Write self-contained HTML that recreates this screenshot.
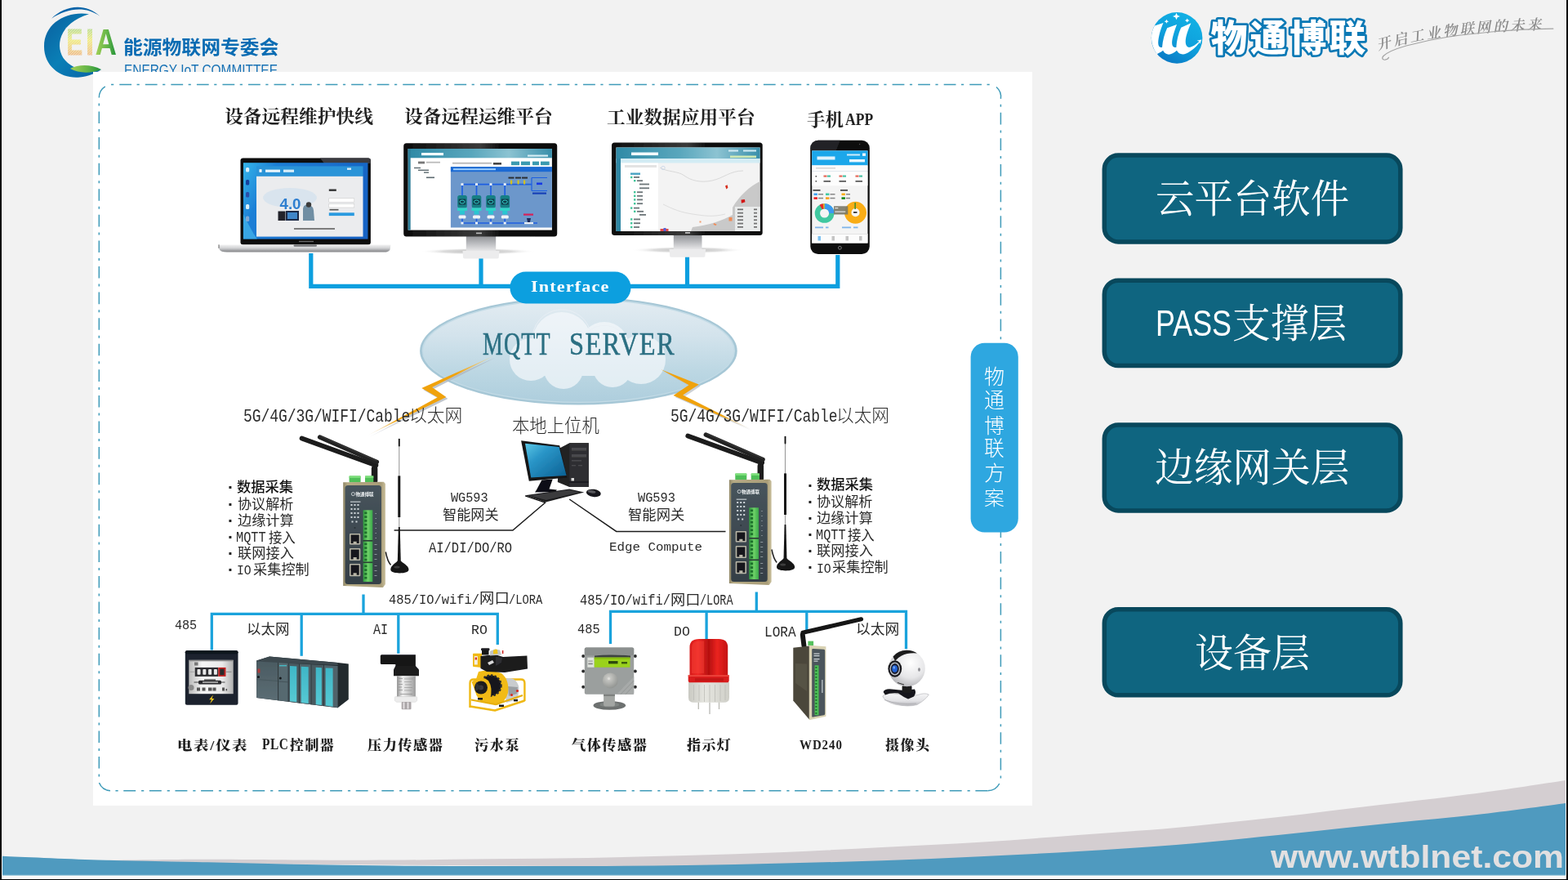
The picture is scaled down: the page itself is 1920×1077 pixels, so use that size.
<!DOCTYPE html>
<html lang="zh-CN">
<head>
<meta charset="utf-8">
<title>物通博联方案 - 能源物联网专委会</title>
<style>
html,body{margin:0;padding:0;background:#f2f2f2;}
body{width:1920px;height:1077px;overflow:hidden;position:relative;}
#slide{will-change:transform;position:absolute;left:0;top:0;width:1920px;height:1077px;overflow:hidden;background:#f2f2f2;}
#g{position:absolute;left:0;top:0;display:block;}
.t{position:absolute;font-size:100px;line-height:1;white-space:pre;transform-origin:0 0;color:#222;margin:0;padding:0;}
.serif,.cjkserif{font-family:"Liberation Serif","Noto Serif CJK SC",serif;}
.sans,.cjksans{font-family:"Liberation Sans","Noto Sans CJK SC",sans-serif;}
.mono{font-family:"Liberation Mono","Noto Serif CJK SC",monospace;}
.dsans{font-family:"Liberation Sans","DejaVu Sans","Noto Sans CJK SC",sans-serif;}
.ln{position:static;margin:0;padding:0;}
span.t{display:block;}

</style>
</head>
<body>
<div id="slide">
<svg id="g" width="1920" height="1077" viewBox="0 0 1920 1077">
<defs>
<linearGradient id="lgCres" x1="0" y1="0" x2="1" y2="1">
<stop offset="0" stop-color="#0a5f9e"/><stop offset="0.5" stop-color="#0a7fb6"/><stop offset="1" stop-color="#0a62a6"/>
</linearGradient>
<linearGradient id="lgLeaf" x1="0" y1="0" x2="1" y2="0">
<stop offset="0" stop-color="#a6d257"/><stop offset="0.6" stop-color="#5fb347"/><stop offset="1" stop-color="#1f9139"/>
</linearGradient>
<linearGradient id="lgEI" x1="0" y1="0" x2="0" y2="1">
<stop offset="0" stop-color="#8ccf8a"/><stop offset="0.45" stop-color="#f2ec6a"/><stop offset="1" stop-color="#ef9a78"/>
</linearGradient>
<pattern id="hatch" width="2.200" height="2.200" patternUnits="userSpaceOnUse" patternTransform="rotate(-45)">
<rect width="2.200" height="0.950" fill="#f2f2f2" fill-opacity=".6"/>
</pattern>
</defs>
<!-- EIA committee logo -->
<path d="M109 17.2 C82 13 54 28 54 57 C54 82 76 97 98 94.5 C108 93.5 118 89.5 124 85 C108 88 90 85.5 80 74 C66 58 72 28 109 17.2 Z" fill="url(#lgCres)"/>
<path d="M63.100 22.700 C78 7.300 104 2.300 122.500 20 C104 6.800 82 10.300 63.100 22.700 Z" fill="#0a64a8"/>
<path d="M85.9 84 C96 78.5 112 78.5 123.9 85 C114 89.5 97 90.5 85.9 84 Z" fill="url(#lgLeaf)"/>
<g font-family="'Liberation Sans',sans-serif" font-weight="700" font-size="44.6">
<text x="81.400" y="66.900" fill="url(#lgEI)" stroke="url(#lgEI)" stroke-width="1" opacity="0.9" textLength="19.600" lengthAdjust="spacingAndGlyphs">E</text>
<text x="105.200" y="66.900" fill="url(#lgEI)" stroke="url(#lgEI)" stroke-width="1.200" opacity="0.9" textLength="9.600" lengthAdjust="spacingAndGlyphs">I</text>
<rect x="80" y="33" width="35" height="36" fill="url(#hatch)"/>
<text x="116.5" y="66.9" fill="url(#lgLeaf)" textLength="26.4" lengthAdjust="spacingAndGlyphs">A</text>
</g>

<defs>
<linearGradient id="cloudG" x1="0" y1="0" x2="0" y2="1">
<stop offset="0" stop-color="#e3ecf2"/><stop offset="0.35" stop-color="#d3e3ec"/><stop offset="0.7" stop-color="#bcd7e3"/><stop offset="1" stop-color="#aecedd"/>
</linearGradient>
</defs>
<!-- white diagram panel -->
<rect x="114" y="87.900" width="1150" height="898" fill="#ffffff"/>
<!-- dash-dot frame -->
<g fill="none" stroke="#3f9bb9" stroke-width="1.500">
<path d="M135 103.400H1214" stroke-dasharray="14.800 6.500 3.200 7.045" stroke-dashoffset="20.295"/>
<path d="M140 967.750H1209.400" stroke-dasharray="14.900 6.900 3.200 6.610" stroke-dashoffset="20.360"/>
<path d="M121.300 125V953" stroke-dasharray="14.600 7 3 6.980" stroke-dashoffset="20.080"/>
<path d="M1225.400 126V954" stroke-dasharray="14.700 7 3 6.900" stroke-dashoffset="19.850"/>
<path d="M121.300 119.600A16 16 0 0 1 128.750 105.900"/>
<path d="M1220 106.500A16 16 0 0 1 1225.400 120.900"/>
<path d="M121.400 958A16 16 0 0 0 135 967.750"/>
<path d="M1209.400 967.750A16 16 0 0 0 1223.750 959"/>
</g>
<!-- right side layer buttons -->
<g fill="#0f6580" stroke="#08485c" stroke-width="5.5">
<rect x="1352.3" y="190.1" width="362.5" height="105.8" rx="17" ry="17"/>
<rect x="1352.3" y="343.2" width="362.5" height="104.4" rx="17" ry="17"/>
<rect x="1352.3" y="520" width="362.5" height="104.9" rx="17" ry="17"/>
<rect x="1352.3" y="745.8" width="362.5" height="105" rx="17" ry="17"/>
</g>
<!-- bottom swoosh -->
<path d="M130.0 1052.90C150.0 1052.72 211.7 1051.88 250.0 1051.80C288.3 1051.72 321.7 1052.27 360.0 1052.40C398.3 1052.53 440.0 1052.79 480.0 1052.60C520.0 1052.41 560.0 1051.68 600.0 1051.25C640.0 1050.82 680.0 1050.71 720.0 1050.00C760.0 1049.29 800.0 1048.17 840.0 1047.00C880.0 1045.83 920.0 1044.67 960.0 1043.00C1000.0 1041.33 1040.0 1039.04 1080.0 1037.00C1120.0 1034.96 1160.0 1033.25 1200.0 1030.75C1240.0 1028.25 1280.0 1024.96 1320.0 1022.00C1360.0 1019.04 1399.2 1016.67 1440.0 1013.00C1480.8 1009.33 1523.3 1004.67 1565.0 1000.00C1606.7 995.33 1648.3 990.00 1690.0 985.00C1731.7 980.00 1777.2 975.00 1815.0 970.00C1852.8 965.00 1900.0 957.50 1917.0 955.00V1000L1440 1040L960 1062L130 1056Z" fill="#d4ced1"/>
<path d="M3.0 1047.75C22.5 1048.54 80.5 1051.29 120.0 1052.50C159.5 1053.71 200.0 1054.12 240.0 1055.00C280.0 1055.88 320.0 1057.00 360.0 1057.75C400.0 1058.50 440.0 1059.12 480.0 1059.50C520.0 1059.88 560.0 1059.92 600.0 1060.00C640.0 1060.08 680.0 1060.17 720.0 1060.00C760.0 1059.83 800.0 1059.58 840.0 1059.00C880.0 1058.42 920.0 1057.46 960.0 1056.50C1000.0 1055.54 1040.0 1054.62 1080.0 1053.25C1120.0 1051.88 1160.0 1050.12 1200.0 1048.25C1240.0 1046.38 1280.0 1044.38 1320.0 1042.00C1360.0 1039.62 1399.2 1037.33 1440.0 1034.00C1480.8 1030.67 1523.3 1026.21 1565.0 1022.00C1606.7 1017.79 1648.3 1013.04 1690.0 1008.75C1731.7 1004.46 1777.2 1000.54 1815.0 996.25C1852.8 991.96 1900.0 985.21 1917.0 983.00V1071.25H3Z" fill="#4f9abf"/>
<rect x="3" y="1071.250" width="1914" height="4.750" fill="#fafafa"/>
<rect x="3" y="1070.600" width="1914" height="1.200" fill="#8fc0d6" opacity=".8"/>
<!-- slide edges -->
<rect x="0" y="0" width="2" height="1077" fill="#000"/>
<rect x="2" y="0" width="1" height="1076" fill="#fcfcfc"/>
<rect x="1918" y="0" width="2" height="1077" fill="#000"/>
<rect x="1917" y="0" width="1" height="1076" fill="#fcfcfc"/>
<rect x="0" y="1076" width="1920" height="1" fill="#000"/>
<!-- cloud -->
<ellipse cx="708.400" cy="429.400" rx="194.300" ry="66.200" fill="#a6c7d6"/>
<ellipse cx="708.400" cy="429.200" rx="191.600" ry="63.800" fill="#c3dbe6"/>
<ellipse cx="708.400" cy="429.400" rx="190" ry="62.400" fill="url(#cloudG)"/>
<!-- top bus lines -->
<g fill="none" stroke="#0c9fdf" stroke-width="5.200" stroke-linejoin="miter">
<path d="M380.800 310V350.400H1025.800V312"/>
<path d="M589 316V350.400"/>
<path d="M841.500 314V350.400"/>
</g>
<rect x="624.400" y="332.500" width="148.100" height="38.900" rx="19.450" fill="#0c9fdf"/>
<!-- vertical side pill -->
<rect x="1188.6" y="419.8" width="58.2" height="231.8" rx="17" fill="#2ea7e0"/>
<!-- lower bus lines -->
<g fill="none" stroke="#1aa3dc" stroke-width="3.300">
<path d="M445 727.500V751.300"/>
<path d="M259.300 795.600V751.300H609.300V789"/>
<path d="M369.200 751.300V802.800"/>
<path d="M487.800 751.300V799.800"/>
<path d="M926.300 724.500V748.300"/>
<path d="M747.500 788V748.300H1109.500V794.200"/>
<path d="M865.100 748.300V782"/>
<path d="M987.800 748.300V772"/>
</g>
<!-- thin black links -->
<g fill="none" stroke="#1c1c1c" stroke-width="1.500">
<path d="M482.600 649.100H627.900L667.500 615.300"/>
<path d="M697.200 611L754.700 650.400H888.500"/>
</g>

<defs>
<filter id="soft" x="-5%" y="-5%" width="110%" height="110%"><feGaussianBlur stdDeviation="0.45"/></filter>
<linearGradient id="gSilverV" x1="0" y1="0" x2="0" y2="1">
<stop offset="0" stop-color="#f4f4f4"/><stop offset="0.45" stop-color="#d2d3d5"/><stop offset="1" stop-color="#7f8083"/>
</linearGradient>
<linearGradient id="gNeck" x1="0" y1="0" x2="0" y2="1">
<stop offset="0" stop-color="#8d8f93"/><stop offset="0.6" stop-color="#c3c4c7"/><stop offset="1" stop-color="#e9e9ea"/>
</linearGradient>
<linearGradient id="gDesk" x1="0" y1="0" x2="1" y2="0.3">
<stop offset="0" stop-color="#35b6ea"/><stop offset="0.25" stop-color="#1d7fd6"/><stop offset="1" stop-color="#1763c4"/>
</linearGradient>
<linearGradient id="gBezel" x1="0" y1="0" x2="1" y2="0">
<stop offset="0" stop-color="#0c0c0c"/><stop offset="0.5" stop-color="#3a3a3a"/><stop offset="0.62" stop-color="#111"/><stop offset="1" stop-color="#0a0a0a"/>
</linearGradient>
<radialGradient id="gShadow" cx="0.5" cy="0.5" r="0.5">
<stop offset="0" stop-color="#bdbdbd"/><stop offset="0.6" stop-color="#dcdcdc"/><stop offset="1" stop-color="#ffffff" stop-opacity="0"/>
</radialGradient>
<linearGradient id="gSky" x1="0" y1="0" x2="1" y2="0">
<stop offset="0" stop-color="#2f8aa6"/><stop offset="0.45" stop-color="#5aa7bd"/><stop offset="0.7" stop-color="#8cc3d2"/><stop offset="1" stop-color="#3a8fab"/>
</linearGradient>
</defs>
<!-- laptop -->
<g id="laptop" filter="url(#soft)">
<rect x="294.5" y="193.4" width="159.4" height="106" rx="3.2" fill="#0b0b0d"/>
<path d="M392 193.600H451a2.900 2.900 0 0 1 2.900 2.900V200H397Z" fill="#3b3b3f"/>
<rect x="297.900" y="199.200" width="152.600" height="93.400" fill="url(#gDesk)"/>
<path d="M297.900 292.600V262c6 12 11 22 17 30.600Z" fill="#4fc6f2" opacity=".55"/>
<rect x="314" y="203.400" width="130.500" height="12.400" fill="#2b94d8"/>
<rect x="314" y="215.800" width="130.500" height="73.800" fill="#ebecee"/>
<rect x="317.500" y="207.200" width="3" height="3.600" fill="#fff"/>
<rect x="325" y="207.600" width="18" height="3.200" fill="#e9f5fc"/>
<rect x="347" y="207.600" width="13" height="3.200" fill="#d7edf9"/>
<rect x="425" y="205.500" width="5" height="2.400" fill="#d7edf9"/>
<g fill="#d9f0fb"><rect x="301" y="205" width="4.200" height="5.500" rx="1.500"/><rect x="301" y="220" width="4.200" height="6.500" rx="1.500" fill="#123f9c"/><rect x="301" y="235" width="4.200" height="6.500" rx="1.500" fill="#2a50a8"/><rect x="301" y="250" width="4.200" height="6" rx="1.500"/><rect x="301" y="264.500" width="4.200" height="6.500" rx="1.500" fill="#7fa9d6"/></g>
<ellipse cx="355" cy="242" rx="33" ry="12" fill="#d5e2ee" opacity=".8"/>
<text x="342.500" y="256.400" font-family="'Liberation Sans',sans-serif" font-weight="700" font-size="19" fill="#2f7fd0" textLength="26" lengthAdjust="spacingAndGlyphs">4.0</text>
<rect x="340.500" y="258.500" width="9" height="11.500" fill="#20242c"/>
<rect x="350" y="258" width="16" height="12" fill="#1d2b46"/>
<rect x="352" y="260" width="12" height="8" fill="#3f86c9"/>
<path d="M371 270v-14c0-3 1.500-5 4.500-5.500 4 0 8 2 8.500 7l1 12.500Z" fill="#6f8ea3"/>
<circle cx="378" cy="250.500" r="3.200" fill="#3b3b3b"/>
<rect x="402.800" y="231.500" width="9" height="2.400" fill="#333"/>
<rect x="402.800" y="242.800" width="31" height="4.600" fill="#fff" stroke="#c7c7c7" stroke-width=".5"/>
<rect x="402.800" y="249.400" width="31" height="4.600" fill="#fff" stroke="#c7c7c7" stroke-width=".5"/>
<rect x="403.500" y="255.900" width="11" height="1.600" fill="#555"/>
<rect x="402.800" y="260.300" width="31" height="3.800" fill="#2b9be0"/>
<rect x="360" y="279" width="50" height="2" fill="#555" opacity=".75"/>
<rect x="366" y="294.800" width="18" height="1.400" fill="#6a6a6a"/>
<path d="M268 299.400H478.500L477.500 305.500Q476.500 308.600 470 308.600H278Q270 308.600 268.500 305Z" fill="url(#gSilverV)"/>
<rect x="359.600" y="299.400" width="28.400" height="2.400" rx="1.200" fill="#6f7073"/>
<rect x="267.400" y="299.400" width="1.200" height="4.500" fill="#777"/>
</g>
<!-- monitor A : remote O&M platform -->
<g id="monA" filter="url(#soft)">
<ellipse cx="584.600" cy="307.700" rx="71" ry="4" fill="url(#gShadow)"/>
<rect x="570.800" y="288" width="36.400" height="19.500" fill="url(#gNeck)"/>
<path d="M566.500 307h45l-.8 8.600q-.3 .8-1.500 .8h-40.500q-1.200 0-1.500-.8Z" fill="#ececed"/>
<rect x="494.200" y="175.300" width="188" height="114.200" rx="3.500" fill="url(#gBezel)"/>
<rect x="499.700" y="182" width="176.200" height="99.600" fill="#ffffff"/>
<rect x="499.700" y="182" width="176.200" height="11.300" fill="url(#gSky)"/>
<rect x="499.700" y="182" width="3" height="99.600" fill="#2e7f99"/>
<rect x="516" y="187" width="27" height="3.200" fill="#f2fbff"/>
<rect x="646" y="189.500" width="25" height="2.200" fill="#d6edf4"/>
<rect x="512" y="197.600" width="8" height="2.800" fill="#777"/><rect x="522" y="197.800" width="17" height="1.800" fill="#bbb"/>
<rect x="554" y="198.800" width="48" height="1.800" fill="#b7b7b7"/><rect x="604" y="199" width="10" height="2.600" fill="#444"/>
<g fill="#3a9ab0"><rect x="626" y="197.600" width="10" height="4.600"/><rect x="638" y="197.600" width="11" height="4.600"/><rect x="652" y="197.600" width="8" height="4.600"/><rect x="662" y="197.600" width="10.700" height="4.600"/></g>
<g fill="#5d6b70"><rect x="507" y="204.800" width="8" height="1.400"/><rect x="512" y="207.600" width="13" height="1.400"/><rect x="519" y="210.400" width="6" height="1.400"/><rect x="522" y="216.500" width="10" height="1.600"/></g>
<rect x="551.900" y="204.200" width="124" height="74.300" fill="#6c97cb"/>
<rect x="551.900" y="204.200" width="124" height="6" fill="#1b6bd3"/>
<rect x="555" y="206.200" width="52" height="2" fill="#9fd0ff"/>
<g fill="none" stroke="#1f5fe2" stroke-width="1.700"><path d="M566 225.600H651"/><path d="M566 273H658"/><path d="M566 225.600V240M583.500 225.600V240M601 225.600V240M618.200 225.600V240"/><path d="M566 264V273M583.500 264V273M601 264V273M618.200 264V273"/><path d="M651 217.500H670M651 233.500H670M651 217.500V233.500" stroke-width="1.200"/></g>
<g id="pmp"><rect x="560.200" y="239" width="11.600" height="15.500" rx="2.500" fill="#167f84"/><rect x="561.700" y="243.500" width="8.600" height="7" fill="#0f3b4a"/><ellipse cx="566" cy="247" rx="3" ry="2" fill="none" stroke="#35e0d8" stroke-width=".9"/><rect x="560" y="254.500" width="12" height="3.400" fill="#31d6c9"/><rect x="563" y="258" width="6" height="4.500" fill="#2bc6d2"/><rect x="561.500" y="263.500" width="9" height="4" rx="1.500" fill="#eef4f8"/></g>
<use href="#pmp" x="17.500"/><use href="#pmp" x="35"/><use href="#pmp" x="52.300"/>
<g fill="#f0f5fa"><rect x="564.500" y="224.200" width="3" height="2.800"/><rect x="582" y="224.200" width="3" height="2.800"/><rect x="599.500" y="224.200" width="3" height="2.800"/><rect x="616.700" y="224.200" width="3" height="2.800"/><rect x="564.500" y="271.600" width="3" height="2.800"/><rect x="582" y="271.600" width="3" height="2.800"/><rect x="599.500" y="271.600" width="3" height="2.800"/><rect x="616.700" y="271.600" width="3" height="2.800"/></g>
<g fill="#2b2f33"><rect x="622.500" y="216.600" width="7" height="2"/><rect x="631" y="216.600" width="7" height="2"/><rect x="639" y="216.600" width="7" height="2"/></g>
<g fill="#d5c21a"><rect x="625" y="220.500" width="2.200" height="5"/><rect x="633.500" y="220.500" width="2.200" height="5"/><rect x="641" y="220.500" width="2.200" height="5"/></g>
<rect x="657" y="223.500" width="7" height="2.600" fill="#1238e6"/>
<rect x="652" y="235.500" width="17" height="2.200" fill="#1541b7"/>
<rect x="641" y="261.500" width="12" height="2.200" fill="#d6205a"/>
<path d="M645 267h5l-1.200 5.500h-2.600Z" fill="#1d2a5a"/><rect x="642" y="272" width="11" height="2.200" fill="#e8eef5"/>
<rect x="583" y="284.600" width="7" height="1.600" fill="#bdbdbd"/>
</g>
<!-- monitor B : industrial data platform -->
<g id="monB" filter="url(#soft)">
<ellipse cx="842" cy="306" rx="70" ry="4.200" fill="url(#gShadow)"/>
<rect x="824.800" y="287" width="34.700" height="18.600" fill="url(#gNeck)"/>
<path d="M819.500 305h44.600l-.8 9q-.3 .8-1.500 .8h-40q-1.200 0-1.500-.8Z" fill="#ececed"/>
<rect x="749" y="174.500" width="184.700" height="113.500" rx="3.500" fill="url(#gBezel)"/>
<rect x="754.500" y="180.500" width="176.100" height="102.500" fill="#f3f3f3"/>
<rect x="754.500" y="180.500" width="176.100" height="13.500" fill="url(#gSky)"/>
<rect x="754.500" y="194" width="176.100" height="5.500" fill="#d3ecf4"/>
<rect x="754.500" y="194" width="5.500" height="89" fill="#2f86a3"/>
<rect x="760" y="199.500" width="45.800" height="83.500" fill="#ffffff"/>
<rect x="773" y="186.500" width="33" height="3.600" fill="#f4fcff"/>
<rect x="894" y="190.500" width="32" height="2.600" fill="#cfe9b4"/>
<rect x="892" y="183.500" width="12" height="2" fill="#d3ecf4"/><rect x="910" y="183.500" width="16" height="2" fill="#d3ecf4"/>
<rect x="765" y="202" width="39" height="3" fill="#e3e3e3"/>
<g fill="#43c59a"><rect x="772" y="211.500" width="12" height="2.400" fill="#4aa3c4"/><rect x="772" y="215.800" width="2.400" height="2.400"/><rect x="776" y="220" width="2.400" height="2.400"/><rect x="776" y="234" width="2.400" height="2.400"/><rect x="776" y="238.600" width="2.400" height="2.400"/><rect x="776" y="243.200" width="2.400" height="2.400"/><rect x="776" y="248" width="2.400" height="2.400"/><rect x="772" y="253.400" width="2.400" height="2.400"/><rect x="776" y="257.600" width="2.400" height="2.400"/><rect x="772" y="267.200" width="2.400" height="2.400"/><rect x="772" y="272" width="2.400" height="2.400"/><rect x="772" y="276.800" width="2.400" height="2.400"/></g>
<g fill="#6d7679"><rect x="776" y="216" width="7" height="1.800"/><rect x="780" y="220.300" width="7" height="1.800"/><rect x="783" y="224.600" width="12" height="1.800"/><rect x="783" y="229.400" width="12" height="1.800"/><rect x="780" y="234.300" width="7" height="1.800"/><rect x="780" y="238.900" width="7" height="1.800"/><rect x="780" y="243.500" width="7" height="1.800"/><rect x="780" y="248.300" width="7" height="1.800"/><rect x="776" y="253.700" width="7" height="1.800"/><rect x="780" y="257.900" width="8" height="1.800"/><rect x="783" y="262" width="8" height="1.800"/><rect x="776" y="267.500" width="8" height="1.800"/><rect x="776" y="272.300" width="8" height="1.800"/><rect x="776" y="277.100" width="7" height="1.800"/></g>
<path d="M930.600 222 C918 228 905 240 897 254 L897 263 C885 270 866 276 848 278 L846 283 H930.600Z" fill="#c9c9c9"/>
<path d="M808 205c10 6 22 4 30 10s20 9 34 6 22-12 38-12" fill="none" stroke="#d9d9d9" stroke-width="1"/>
<path d="M812 250c12 6 22 10 36 12s24 4 40 0" fill="none" stroke="#dedede" stroke-width="1"/>
<rect x="900" y="253" width="30.600" height="30" fill="#eceeee" opacity=".92"/>
<g fill="#6f6f6f"><rect x="903" y="255.500" width="7" height="1.700"/><rect x="903" y="259.800" width="7" height="1.700"/><rect x="903" y="264.100" width="7" height="1.700"/><rect x="903" y="268.400" width="7" height="1.700"/><rect x="903" y="272.700" width="7" height="1.700"/><rect x="903" y="277" width="7" height="1.700"/><rect x="923" y="255.500" width="4" height="1.700"/><rect x="923" y="259.800" width="4" height="1.700"/><rect x="923" y="264.100" width="4" height="1.700"/><rect x="923" y="268.400" width="4" height="1.700"/><rect x="923" y="272.700" width="4" height="1.700"/><rect x="923" y="277" width="4" height="1.700"/></g>
<path d="M888 227.500l2.600-1.200 .8 3.400-2 1.800Z" fill="#d62f1f"/>
<path d="M907.500 244.500l4.400-.6 .6 3.300-4.600 1.600Z" fill="#d31919"/>
<rect x="892.500" y="266" width="4" height="4.500" fill="#f08a55"/>
<path d="M874 273l3.500 1.500-.8 1.600-3-1.200Z" fill="#f08a55"/><rect x="856.500" y="270.500" width="2" height="2" fill="#f39b6d"/>
<rect x="808.500" y="280" width="10" height="3" fill="#e34a4a"/><rect x="812.500" y="279" width="3" height="4" fill="#5561d8"/>
<circle cx="812" cy="205.500" r="2.200" fill="none" stroke="#c5d3e6" stroke-width=".8"/>
<rect x="839" y="284" width="6" height="1.800" fill="#bdbdbd"/>
</g>
<!-- phone -->
<g id="phone" filter="url(#soft)">
<rect x="992.300" y="171.800" width="72.500" height="139.200" rx="9.500" fill="#0a0a0b"/>
<path d="M1001.800 171.800h27l-5 12.500h-31.500v-3a9.500 9.500 0 0 1 9.500-9.500Z" fill="#2a2a2c" opacity=".8"/>
<rect x="994.200" y="184.400" width="68.300" height="113.100" fill="#f4f4f4"/>
<rect x="994.200" y="184.400" width="68.300" height="18" fill="#1ea7ea"/>
<rect x="1000.500" y="191.500" width="22" height="4" fill="#dff3fd"/>
<rect x="1037" y="188.500" width="16" height="2" fill="#cdecfb"/><rect x="1056" y="187.500" width="4" height="3.400" fill="#e9f7fe"/>
<rect x="1040" y="195" width="19" height="3.400" fill="#e9f7fe"/>
<rect x="994.200" y="202.400" width="68.300" height="6.800" fill="#fbfbfb"/><rect x="999" y="205" width="24" height="1.600" fill="#d7d7d7"/>
<rect x="994.200" y="209.200" width="68.300" height="1" fill="#dfe7ef"/>
<rect x="994.200" y="210.200" width="68.300" height="17" fill="#fdfdfd"/>
<g fill="#e66a5a"><rect x="1008.500" y="214.500" width="4" height="2.200"/><rect x="1027.500" y="214.500" width="4" height="2.200"/><rect x="1047.500" y="214.500" width="4" height="2.200"/></g>
<g fill="#4cc2a6"><rect x="1013" y="214.500" width="4" height="2.200"/><rect x="1032" y="214.500" width="4" height="2.200"/><rect x="1052" y="214.500" width="4" height="2.200"/></g>
<g fill="#555"><rect x="998.500" y="215" width="1.600" height="1.600"/><rect x="998.500" y="221" width="1.600" height="1.600"/><rect x="1008.500" y="221" width="8.500" height="1.700"/><rect x="1027.500" y="221" width="8.500" height="1.700"/><rect x="1047.500" y="221" width="8.500" height="1.700"/></g>
<rect x="995.500" y="232" width="9" height="1.700" fill="#444"/><rect x="1029" y="232" width="9" height="1.700" fill="#444"/>
<rect x="996.500" y="236.500" width="4.400" height="2.600" fill="#3da2f2"/><rect x="1011" y="236.500" width="4.400" height="2.600" fill="#43c9a2"/><rect x="1030.500" y="236.500" width="4.400" height="2.600" fill="#f9ad14"/>
<rect x="996.500" y="241.300" width="4.400" height="2.600" fill="#ee1c1c"/><rect x="1011" y="241.300" width="4.400" height="2.600" fill="#f9a11a"/><rect x="1030.500" y="241.300" width="4.400" height="2.600" fill="#12871b"/>
<g fill="#888"><rect x="1002" y="237" width="6" height="1.500"/><rect x="1016.500" y="237" width="6" height="1.500"/><rect x="1036" y="237" width="5" height="1.500"/><rect x="1002" y="241.800" width="6" height="1.500"/><rect x="1016.500" y="241.800" width="6" height="1.500"/><rect x="1036" y="241.800" width="5" height="1.500"/></g>
<circle cx="1009.600" cy="261" r="8.700" fill="none" stroke="#3fc8a0" stroke-width="6.300"/>
<path d="M1009.600 252.300A8.700 8.700 0 0 1 1018.300 261" fill="none" stroke="#3a9af0" stroke-width="6.300"/>
<path d="M1005.200 253.500A8.700 8.700 0 0 1 1008.200 252.400" fill="none" stroke="#ee2525" stroke-width="6.300"/>
<path d="M1008.200 252.400A8.700 8.700 0 0 1 1009.600 252.300" fill="none" stroke="#f9ad14" stroke-width="6.300"/>
<circle cx="1047.500" cy="260.200" r="9.300" fill="none" stroke="#f9ad14" stroke-width="8.400"/>
<rect x="1046.400" y="248" width="1.500" height="8" fill="#3a8f2a"/>
<rect x="1043.500" y="258" width="7" height="3.600" rx="1.500" fill="#fff"/><rect x="1045" y="259" width="4.500" height="1.800" fill="#333"/>
<rect x="1021" y="252.300" width="17.300" height="10.200" fill="#7b7a68" opacity=".92"/>
<rect x="1022.300" y="254" width="4" height="1.300" fill="#ddd"/><rect x="1022.300" y="258.500" width="13" height="1.300" fill="#ddd"/>
<rect x="998" y="277.500" width="10" height="1.800" fill="#7fb5ea"/><rect x="1011" y="277.500" width="3.500" height="1.800" fill="#7fb5ea"/><rect x="1031" y="277.500" width="11" height="1.800" fill="#7fb5ea"/><rect x="1045" y="277.500" width="5.500" height="1.800" fill="#7fb5ea"/>
<rect x="994.200" y="286.200" width="68.300" height="11.300" fill="#fcfcfc"/><rect x="994.200" y="286" width="68.300" height=".7" fill="#d9d9d9"/>
<rect x="1001.500" y="289" width="3.500" height="5.500" fill="#7cc1f1"/><g fill="#c4c4c4"><rect x="1018.500" y="289" width="3.500" height="5.500"/><rect x="1035.500" y="289" width="3.500" height="5.500"/><rect x="1052" y="289" width="3.500" height="5.500"/></g>
<circle cx="1028.400" cy="303.300" r="1.900" fill="none" stroke="#9a9a9a" stroke-width=".8"/>
<circle cx="1052.600" cy="176.500" r=".8" fill="#555"/>
</g>
<defs>
<linearGradient id="gPcScr" x1="0" y1="0" x2="1" y2="1">
<stop offset="0" stop-color="#5cc8e6"/><stop offset="0.35" stop-color="#2a96c8"/><stop offset="1" stop-color="#0b5f92"/>
</linearGradient>
<linearGradient id="gGwBody" x1="0" y1="0" x2="1" y2="0">
<stop offset="0" stop-color="#8f8666"/><stop offset="0.1" stop-color="#b5aa84"/><stop offset="0.9" stop-color="#a99d78"/><stop offset="1" stop-color="#c9bf9c"/>
</linearGradient>
<linearGradient id="gGwPanel" x1="0" y1="0" x2="0" y2="1">
<stop offset="0" stop-color="#47545c"/><stop offset="1" stop-color="#353f46"/>
</linearGradient>
<linearGradient id="gGreen" x1="0" y1="0" x2="1" y2="0">
<stop offset="0" stop-color="#2f9a3f"/><stop offset="0.5" stop-color="#6fd268"/><stop offset="1" stop-color="#3aa84a"/>
</linearGradient>
<linearGradient id="gBoltL" gradientUnits="userSpaceOnUse" x1="450" y1="533" x2="605" y2="435">
<stop offset="0" stop-color="#e9e3d2" stop-opacity=".25"/><stop offset="0.22" stop-color="#f0a20c"/><stop offset="0.72" stop-color="#f0a20c"/><stop offset="1" stop-color="#efd9a5" stop-opacity=".7"/>
</linearGradient>
<linearGradient id="gBoltS" gradientUnits="userSpaceOnUse" x1="450" y1="533" x2="605" y2="435">
<stop offset="0" stop-color="#b9bfc6" stop-opacity=".2"/><stop offset="0.3" stop-color="#b9bfc6" stop-opacity=".85"/><stop offset="1" stop-color="#aab4be" stop-opacity=".8"/>
</linearGradient>
<linearGradient id="gBoltR" gradientUnits="userSpaceOnUse" x1="809" y1="452" x2="920" y2="526">
<stop offset="0" stop-color="#f0a20c"/><stop offset="0.7" stop-color="#f0a20c"/><stop offset="0.8" stop-color="#e8c88a"/><stop offset="1" stop-color="#d9d9d9" stop-opacity=".4"/>
</linearGradient>
<linearGradient id="gBoltSR" gradientUnits="userSpaceOnUse" x1="809" y1="452" x2="920" y2="526">
<stop offset="0" stop-color="#b9bfc6" stop-opacity=".6"/><stop offset="0.7" stop-color="#b9bfc6" stop-opacity=".85"/><stop offset="1" stop-color="#d0d0d0" stop-opacity=".3"/>
</linearGradient>
<filter id="blur2" x="-20%" y="-20%" width="140%" height="140%"><feGaussianBlur stdDeviation="1.6"/></filter>
<filter id="blur1" x="-20%" y="-20%" width="140%" height="140%"><feGaussianBlur stdDeviation="0.7"/></filter>
<g id="gateway">
<!-- twin rubber antennas -->
<path d="M458.600 588.500V573.500" stroke="#1d1d1d" stroke-width="7.500" stroke-linecap="round" fill="none"/>
<path d="M369.500 536.500L460.500 569.500" stroke="#1a1a1a" stroke-width="5.600" stroke-linecap="round" fill="none"/>
<path d="M391.500 535L461.500 565.500" stroke="#242424" stroke-width="5.200" stroke-linecap="round" fill="none"/>
<path d="M393 534.200L461 563.800" stroke="#4a4a4a" stroke-width="1" stroke-linecap="round" fill="none" opacity=".6"/>
<!-- top plugs -->
<rect x="427.600" y="582.400" width="14" height="8.200" rx="1" fill="#4fbf58"/><rect x="447" y="582.400" width="10.300" height="8.200" rx="1" fill="#4fbf58"/>
<rect x="427.600" y="582.400" width="14" height="2.400" fill="#7fe07c"/><rect x="447" y="582.400" width="10.300" height="2.400" fill="#7fe07c"/>
<!-- housing -->
<path d="M420.200 590.200L469.900 589.800L471.900 592V715L469 718.900L420.200 717Z" fill="url(#gGwBody)"/>
<rect x="422.500" y="594" width="44.500" height="121" rx="3.500" fill="url(#gGwPanel)"/>
<circle cx="432.400" cy="604.600" r="2" fill="none" stroke="#e8ecee" stroke-width=".8"/>
<text x="435.400" y="606.600" font-family="'Liberation Sans','Noto Sans CJK SC',sans-serif" font-weight="700" font-size="5.600" fill="#eef1f2" textLength="22" lengthAdjust="spacingAndGlyphs">物通博联</text>
<g fill="#cfd6da"><rect x="429" y="613.600" width="12.500" height="1.100"/><rect x="429.500" y="617" width="2" height="2"/><rect x="433.500" y="617" width="2" height="2"/><rect x="437.500" y="617" width="2" height="2"/><rect x="429.500" y="622" width="2" height="2"/><rect x="433.500" y="622" width="2" height="2"/><rect x="437.500" y="622" width="2" height="2"/><rect x="429.500" y="627" width="2" height="2"/><rect x="433.500" y="627" width="2" height="2"/><rect x="437.500" y="627" width="2" height="2"/><rect x="429.500" y="632" width="2" height="2"/><rect x="433.500" y="632" width="2" height="2"/><rect x="437.500" y="632" width="2" height="2"/><rect x="430.500" y="637.500" width="2" height="2"/><rect x="435.500" y="637.500" width="2" height="2"/></g>
<circle cx="434.500" cy="646" r="1" fill="#2a3238"/>
<!-- terminal block -->
<rect x="444.600" y="624.300" width="11.700" height="87.700" fill="url(#gGreen)"/>
<g fill="#1f6f2c"><rect x="446.200" y="626.500" width="3.200" height="2.600"/><rect x="446.200" y="631.300" width="3.200" height="2.600"/><rect x="446.200" y="636.100" width="3.200" height="2.600"/><rect x="446.200" y="640.900" width="3.200" height="2.600"/><rect x="446.200" y="645.700" width="3.200" height="2.600"/><rect x="446.200" y="650.500" width="3.200" height="2.600"/><rect x="446.200" y="655.300" width="3.200" height="2.600"/><rect x="446.200" y="664.500" width="3.200" height="2.600"/><rect x="446.200" y="669.300" width="3.200" height="2.600"/><rect x="446.200" y="674.100" width="3.200" height="2.600"/><rect x="446.200" y="678.900" width="3.200" height="2.600"/><rect x="446.200" y="683.700" width="3.200" height="2.600"/><rect x="446.200" y="691.500" width="3.200" height="2.600"/><rect x="446.200" y="696.300" width="3.200" height="2.600"/><rect x="446.200" y="701.100" width="3.200" height="2.600"/><rect x="446.200" y="705.900" width="3.200" height="2.600"/></g>
<rect x="444.600" y="661" width="11.700" height="1.600" fill="#2a3a34"/><rect x="444.600" y="687.500" width="11.700" height="1.600" fill="#2a3a34"/>
<g fill="#8e979c"><rect x="459.500" y="628" width="1.500" height="1"/><rect x="459.500" y="634" width="1.500" height="1"/><rect x="459.500" y="640" width="1.500" height="1"/><rect x="459.500" y="646" width="1.500" height="1"/><rect x="459.500" y="652" width="1.500" height="1"/><rect x="459.500" y="658" width="1.500" height="1"/><rect x="458.500" y="666" width="3" height="1"/><rect x="458.500" y="672" width="3" height="1"/><rect x="458.500" y="678" width="3" height="1"/><rect x="458.500" y="684" width="3" height="1"/><rect x="458.500" y="692" width="3" height="1"/><rect x="458.500" y="698" width="3" height="1"/><rect x="458.500" y="704" width="3" height="1"/></g>
<!-- RJ45 -->
<g><rect x="428" y="653" width="13.300" height="13.600" rx="1" fill="#b9b6a8"/><path d="M429.600 654.600h10.100v10.400h-3v-2.200h-4.100v2.200h-3Z" fill="#15181a"/>
<rect x="428" y="671" width="13.300" height="15" rx="1" fill="#b9b6a8"/><path d="M429.600 672.600h10.100v11.800h-3v-2.400h-4.100v2.400h-3Z" fill="#15181a"/>
<rect x="428" y="690" width="13.300" height="15.300" rx="1" fill="#b9b6a8"/><path d="M429.600 691.600h10.100v12.100h-3v-2.400h-4.100v2.400h-3Z" fill="#15181a"/></g>
<!-- whip antenna with magnetic base -->
<path d="M478.500 691.500C475.500 688 473.500 682 472.300 675.500" fill="none" stroke="#222" stroke-width="1.500"/>
<path d="M488.800 545V688" stroke="#9a9a9a" stroke-width="1.100" fill="none"/>
<path d="M488.800 537.600V545.500" stroke="#111" stroke-width="1.800" stroke-linecap="round" fill="none"/>
<path d="M488.800 582.400V633" stroke="#151515" stroke-width="3" fill="none"/>
<path d="M487.900 645H489.700L490.800 688H486.800Z" fill="#151515"/>
<path d="M486.600 686.500h4.400c1.500 2.500 9.500 5.500 9.500 10.500 0 3-4.500 4.400-11.100 4.400s-11.100-1.400-11.100-4.400c0-5 6.800-8 8.300-10.500Z" fill="#171717"/>
<ellipse cx="486" cy="694" rx="3.500" ry="1.500" fill="#555" opacity=".6"/>
</g>
</defs>
<!-- soft white cloud inside MQTT ellipse -->
<g fill="#f6f9fc" opacity=".7" filter="url(#blur1)">
<circle cx="688" cy="418" r="36"/><circle cx="740" cy="424" r="30"/><circle cx="650" cy="440" r="26"/><circle cx="785" cy="440" r="30"/><circle cx="690" cy="452" r="24"/><circle cx="750" cy="450" r="24"/><rect x="640" y="420" width="160" height="40"/>
</g>
<g fill="none" stroke="#e9eff5" stroke-width="1" opacity=".9"><path d="M652 418a36 36 0 0 1 72-6"/><path d="M716 410a30 30 0 0 1 52 8"/></g>
<!-- wireless bolts -->
<g>
<path d="M606.800 437.600L518.300 477.100L537.800 488.300L452 535L548.400 488L531.100 476Z" fill="url(#gBoltS)"/>
<path d="M604.800 435.600L516.300 475.100L535.800 486.300L450 533L546.400 486L529.100 474Z" fill="url(#gBoltL)"/>
<path d="M811.500 454.300L857.700 472.600L838.200 485.500L922.300 527.800L826.500 486L845.500 473.200Z" fill="url(#gBoltSR)"/>
<path d="M809.500 452.300L855.700 470.600L836.200 483.500L920.300 525.800L824.500 484L843.500 471.200Z" fill="url(#gBoltR)"/>
</g>
<use href="#gateway" filter="url(#soft)"/>
<use href="#gateway" x="472.700" y="-3" filter="url(#soft)"/>
<!-- local host PC -->
<g id="pc" filter="url(#soft)">
<path d="M685.800 548.300L697.200 542.200H720.800V596H697.200L682.800 590Z" fill="#202022"/>
<rect x="697.200" y="542.200" width="23.600" height="53.800" fill="#2f2f31"/>
<g fill="#4a4a4d"><rect x="700" y="548" width="18" height="3.500"/><rect x="700" y="556" width="18" height="3.500"/><rect x="700" y="563" width="12" height="1.600"/><rect x="700" y="569" width="5" height="1.400"/><rect x="708" y="569" width="5" height="1.400"/></g>
<rect x="699.500" y="585" width="3.500" height="3.500" fill="#d9d9d9"/><rect x="697.200" y="589.500" width="23.600" height="1" fill="#111"/>
<path d="M638.100 539.200L685.200 545.300L694.200 584.500L647.800 588.700Z" fill="#141416"/>
<path d="M643 542.800L684.600 547L693.600 582L650.200 584.500Z" fill="url(#gPcScr)"/>
<path d="M663.400 587.500L676.700 586.500L672.500 598.500L682 599.500L680 602L655 602.500L657 599.500Z" fill="#101012"/>
<path d="M643 606.200L697.200 598.400L715.300 602.600L668.300 614.600Z" fill="#1b1b1d"/>
<path d="M648 606.400L697 599.600L710 602.600L668.500 612Z" fill="#3a3a3d"/>
<path d="M643 606.200L668.300 614.600V616L643 607.600Z" fill="#0c0c0c"/>
<ellipse cx="726.800" cy="603.400" rx="9" ry="4.600" fill="#18181a" transform="rotate(8 726.800 603.400)"/>
<ellipse cx="724.500" cy="601.800" rx="5" ry="1.800" fill="#55555a" transform="rotate(8 724.500 601.800)"/>
</g>
<defs>
<linearGradient id="gFace" x1="0" y1="0" x2="1" y2="0">
<stop offset="0" stop-color="#b9b9b9"/><stop offset="0.3" stop-color="#f5f5f5"/><stop offset="0.75" stop-color="#eaeaea"/><stop offset="1" stop-color="#b0b0b0"/>
</linearGradient>
<linearGradient id="gSteel" x1="0" y1="0" x2="1" y2="0">
<stop offset="0" stop-color="#8e8e8e"/><stop offset="0.3" stop-color="#f0f0f0"/><stop offset="0.6" stop-color="#cfcfcf"/><stop offset="1" stop-color="#9a9a9a"/>
</linearGradient>
<linearGradient id="gRed" x1="0" y1="0" x2="1" y2="0">
<stop offset="0" stop-color="#d61a1a"/><stop offset="0.22" stop-color="#f02a26"/><stop offset="0.5" stop-color="#b50f0f"/><stop offset="0.72" stop-color="#ea2320"/><stop offset="1" stop-color="#c41212"/>
</linearGradient>
<linearGradient id="gLampBase" x1="0" y1="0" x2="1" y2="0">
<stop offset="0" stop-color="#c9c9c2"/><stop offset="0.4" stop-color="#e6e6e0"/><stop offset="1" stop-color="#cfcfc8"/>
</linearGradient>
<radialGradient id="gCam" cx="0.6" cy="0.35" r="0.75">
<stop offset="0" stop-color="#ffffff"/><stop offset="0.55" stop-color="#e6e6e8"/><stop offset="1" stop-color="#a9a9ad"/>
</radialGradient>
<linearGradient id="gCamBase" x1="0" y1="0" x2="0" y2="1"><stop offset="0" stop-color="#f6f6f7"/><stop offset="0.6" stop-color="#e2e2e5"/><stop offset="1" stop-color="#b4b4b9"/></linearGradient>
<radialGradient id="gKnob" cx="0.4" cy="0.35" r="0.7">
<stop offset="0" stop-color="#d0d0cc"/><stop offset="1" stop-color="#8f928f"/>
</radialGradient>
<linearGradient id="gPlc" x1="0" y1="0" x2="0" y2="1">
<stop offset="0" stop-color="#4b5b62"/><stop offset="1" stop-color="#5b6d74"/>
</linearGradient>
<linearGradient id="gCyan" x1="0" y1="0" x2="0" y2="1">
<stop offset="0" stop-color="#3fb6c6"/><stop offset="1" stop-color="#56c9d4"/>
</linearGradient>
</defs>
<!-- energy meter -->
<g id="meter" filter="url(#soft)">
<rect x="226.800" y="796.200" width="64.700" height="66.500" rx="2" fill="#1b222f"/>
<rect x="226.800" y="796.200" width="64.700" height="4" rx="2" fill="#0f141d"/>
<rect x="231.300" y="807.800" width="54.400" height="41.400" fill="url(#gFace)"/>
<rect x="231.300" y="807.800" width="54.400" height="1.500" fill="#8d8d8d"/>
<rect x="238" y="810.500" width="4.500" height="4" fill="#777"/>
<rect x="238.700" y="816.900" width="28.600" height="11" fill="#2e2e30"/>
<g fill="#e9e9e9"><rect x="241.500" y="819" width="4" height="6.800" rx="1"/><rect x="248.300" y="819" width="4" height="6.800" rx="1"/><rect x="255.100" y="819" width="4" height="6.800" rx="1"/><rect x="261.900" y="819" width="4" height="6.800" rx="1"/></g>
<rect x="267.300" y="816.900" width="9.200" height="11" fill="#c42222"/><rect x="269.300" y="818.600" width="5.200" height="7.600" fill="#2a2a2a"/>
<rect x="276.500" y="821.800" width="7" height=".8" fill="#777"/><rect x="232.500" y="821.800" width="6" height=".8" fill="#999"/>
<rect x="237.500" y="834.500" width="38" height="1" fill="#444"/><rect x="243" y="832.700" width="28" height="4.800" rx="1.500" fill="#2b2b2d"/><rect x="248" y="834" width="19" height="2" fill="#9a9a9a"/>
<rect x="250" y="831.500" width="14" height="1.200" fill="#222"/>
<circle cx="234" cy="841.500" r="3.500" fill="#8a8a8a"/>
<g fill="#555"><rect x="241" y="841.500" width="4" height="4"/><rect x="247.500" y="841.500" width="4" height="4"/><rect x="255" y="841.500" width="4.500" height="4"/><rect x="260.500" y="841.500" width="4" height="4"/><rect x="272" y="841.500" width="3" height="4"/><rect x="276.500" y="843" width="1.600" height="2.400"/></g>
<path d="M261 850.500l-4.800 5.800h2.900l-2 5 5.300-6.400h-3Z" fill="#f7cb1f"/>
</g>
<!-- PLC rack -->
<g id="plc" filter="url(#soft)">
<path d="M314.200 808.500L330 803.600L413.600 811L426.800 812.500V856L413.600 866.200L314.200 854Z" fill="#222a2e"/>
<path d="M314.200 808.500L330 803.600L413.600 811L413.600 814L314.200 810.500Z" fill="#3c4a50"/>
<path d="M314.200 809.500L340.600 811V857.200L314.200 854Z" fill="url(#gPlc)"/>
<path d="M314.200 831.500L340.600 833.500" stroke="#46555b" stroke-width=".8" fill="none"/>
<path d="M340.600 811L353.100 811.800V858.700L340.600 857.200Z" fill="#566970"/>
<path d="M353.100 811.800L366.500 812.500V860.400L353.100 858.700Z" fill="#4a5a61"/>
<path d="M366.500 812.500L381 813.200V862.200L366.500 860.400Z" fill="#50626a"/>
<path d="M381 813.200L396.500 814V864.100L381 862.200Z" fill="#4a5a61"/>
<path d="M396.500 814L413.600 815V866.200L396.500 864.100Z" fill="#50626a"/>
<g fill="none" stroke="#2b3438" stroke-width=".9"><path d="M340.600 811V857.200M353.100 811.800V858.700M366.500 812.500V860.400M381 813.200V862.200M396.500 814V864.100"/></g>
<path d="M355 815L363.300 815.400V859.200L355 858.200Z" fill="url(#gCyan)"/>
<path d="M368.700 815.800L377.700 816.200V861L368.700 860Z" fill="url(#gCyan)"/>
<path d="M386.700 816.800L393.900 817.200V863L386.700 862.200Z" fill="url(#gCyan)"/>
<path d="M398.700 817.400L407.600 817.800V864.700L398.700 863.600Z" fill="url(#gCyan)"/>
<rect x="342" y="814" width="9" height="1.400" fill="#46b9c4"/>
<circle cx="316.500" cy="828.600" r="1.500" fill="#14191c"/><circle cx="343.300" cy="830" r="1.500" fill="#14191c"/>
<rect x="315.500" y="818.500" width="3" height="5" fill="#a83a3a"/>
<path d="M340.600 834L353.100 834.800" stroke="#3f4d53" stroke-width=".8" fill="none"/>
</g>
<!-- pressure transmitter -->
<g id="press" filter="url(#soft)">
<path d="M467.300 801.300H508.900V819.500H484.300V813H467.300Q465.800 813 465.800 811.500V802.800Q465.800 801.300 467.300 801.300Z" fill="#151517"/>
<path d="M484.300 815L482 819.500V827.300H513V819.500L508.900 815Z" fill="#1a1a1c"/>
<rect x="486.100" y="827.300" width="22.800" height="26" fill="url(#gSteel)"/>
<g fill="#8b8b8b" opacity=".7"><rect x="488" y="830" width="5" height="1"/><rect x="488" y="833.500" width="4" height="1"/><rect x="488" y="837" width="5" height="1"/><rect x="488" y="840.500" width="4" height="1"/><rect x="488" y="844" width="5" height="1"/><rect x="495" y="830.500" width="11" height=".8"/><rect x="495" y="834" width="9" height=".8"/><rect x="496" y="837.500" width="8" height=".8"/><rect x="495" y="841" width="10" height=".8"/><rect x="495" y="844.500" width="9" height=".8"/><rect x="490" y="849" width="15" height="1"/></g>
<path d="M483.400 853.500Q483.400 852.600 484.400 852.600H509.700Q510.700 852.600 510.700 853.500V857.500L508.500 859.300H485.600L483.400 857.500Z" fill="#ececec" stroke="#d2d2d2" stroke-width=".5"/>
<rect x="491.700" y="859" width="11.800" height="9.200" rx="1" fill="#a9a4a6"/>
<g fill="#e3dfe1"><rect x="493.500" y="859.500" width="2" height="8"/><rect x="498.500" y="859.500" width="2" height="8"/></g>
</g>
<!-- sewage pump -->
<g id="pump" filter="url(#soft)">
<path d="M575.500 866V836Q575.500 831.500 580 831.500H638Q642.400 831.500 642.400 836V858" fill="none" stroke="#efb812" stroke-width="2.400"/>
<path d="M616 832C626 827 634 832 635.500 842L634 856L620 860Z" fill="#c9ccce"/>
<path d="M622 840l12 1 -1 8 -10 3Z" fill="#9a9ea2"/>
<circle cx="633.500" cy="845.500" r="1.600" fill="#d8271e"/>
<path d="M586 822Q600 818 614 824Q624 832 622 848Q619 860 608 863L588 858Q580 848 582 834Z" fill="#f2bb14"/>
<circle cx="601" cy="839" r="12.500" fill="#19191b"/>
<circle cx="601" cy="839" r="12.500" fill="none" stroke="#2c2c2e" stroke-width="2.500" stroke-dasharray="2.500 2"/>
<path d="M577.500 834.500Q590 826 598 833Q604 842 600 856L584 852Z" fill="#efb812"/>
<circle cx="589" cy="841.500" r="8" fill="#1c1c1e"/><circle cx="589" cy="841.500" r="3" fill="#3a3a3d"/>
<path d="M583 835l6 6.500 -7 5Z" fill="#2e3034"/>
<path d="M579 800.500Q579 799.800 580 799.800H590V817L580 816Q579 816 579 815Z" fill="#f0b913"/>
<rect x="580.800" y="803" width="4" height="10.500" fill="#f4efe6"/><rect x="581.600" y="804.500" width="2.400" height="3" fill="#d9362b"/>
<path d="M588.500 803L606 801L616 804L645.400 802.500L646 818.500L618 823L596 822L588.500 818Z" fill="#1a1a1c"/>
<path d="M607 803.500l8 1.500 -1 6 -7 4Z" fill="#2f2f33"/><path d="M597 811l6-3 2 3-6 3Z" fill="#d9d9d9"/>
<path d="M590 795.500h8.500v6h-8.500Z" fill="#151517"/><rect x="589" y="793.200" width="10.500" height="3" rx="1.200" fill="#1f1f22"/>
<path d="M600 797l6-2.500 6 1 2 6 -14 1Z" fill="#c1c4c7"/><path d="M604 796l3-1.500 2 .5 .5 5 -5.500 .5Z" fill="#edc21f"/>
<rect x="614.800" y="796" width="1.600" height="4" fill="#cf2a22"/>
<path d="M575.500 864.500L606 869.500L642.400 857.500" fill="none" stroke="#efb812" stroke-width="2.600" stroke-linejoin="round"/>
<path d="M577 856.500L607 862L640 851" fill="none" stroke="#e7b010" stroke-width="2.200"/>
<g fill="#1b1b1d"><rect x="585" y="854" width="6" height="2.500"/><rect x="611" y="862.500" width="6" height="2.500"/><rect x="629" y="856" width="5" height="2.400"/></g>
<circle cx="626.500" cy="850.500" r="1.500" fill="#d8271e"/>
</g>
<!-- gas detector -->
<g id="gas" filter="url(#soft)">
<ellipse cx="746.300" cy="863.400" rx="19.800" ry="5.400" fill="#6d716f"/>
<ellipse cx="746.300" cy="862.400" rx="12" ry="3" fill="#7f8482"/>
<rect x="739.100" y="848" width="13.800" height="16.600" rx="2" fill="#a3a6a3"/>
<rect x="739.100" y="848" width="13.800" height="4" fill="#7e817f"/>
<g fill="#2a2c2c"><circle cx="714.200" cy="803" r="2"/><circle cx="714.200" cy="821.500" r="2"/><circle cx="714.200" cy="840.700" r="2"/><circle cx="777.800" cy="803" r="2"/><circle cx="777.800" cy="821.500" r="2"/><circle cx="777.800" cy="840.700" r="2"/></g>
<rect x="715.800" y="792.500" width="60.400" height="57.200" rx="2" fill="#9b9f9e"/>
<rect x="715.800" y="792.500" width="60.400" height="9.800" rx="2" fill="#8c908f"/>
<path d="M728 802.500Q746 800.600 772 802.500V804.700H728Z" fill="#3e4240"/>
<path d="M755 849.700L776.200 828V849.700Z" fill="#a7aaa9"/>
<path d="M760 849.700L776.200 833M766 849.700L776.200 839" stroke="#8e9291" stroke-width=".8" fill="none"/>
<rect x="719.300" y="804.700" width="8.400" height="12" fill="#dfe3dd"/>
<rect x="720.300" y="808.500" width="5.500" height="1.200" fill="#999"/><rect x="720.300" y="811.500" width="5.500" height="1.800" fill="#888"/>
<rect x="727.700" y="804.700" width="43.800" height="12" fill="#9ad21a"/>
<rect x="727.700" y="804.700" width="43.800" height="2" fill="#86bd10"/>
<rect x="745" y="809" width="11.500" height="3.400" fill="#2d4a0a"/><rect x="761" y="810" width="7" height="2.400" fill="#3a5a10"/>
<circle cx="747.300" cy="832.900" r="9.500" fill="url(#gKnob)"/>
<circle cx="745.500" cy="830.500" r="1.600" fill="#dededa"/>
</g>
<!-- alarm lamp -->
<g id="lamp" filter="url(#soft)">
<g stroke="#b9b9b4" stroke-width="1.300"><path d="M855.300 859V868M869 859V874M880.500 859V868"/></g>
<path d="M843 835H893V854Q893 859.800 886 859.800H850Q843 859.800 843 854Z" fill="url(#gLampBase)"/>
<g stroke="#bdbdb6" stroke-width=".8" fill="none"><path d="M849.500 838V857M856 838V858M862.500 838V859M869 838V859M875.500 838V859M882 838V858M888 838V857"/></g>
<path d="M844.500 827V792Q844.500 782 856 782H880Q891.200 782 891.200 792V827Z" fill="url(#gRed)"/>
<path d="M842.700 826.300H892.700V833Q892.700 835.300 890 835.300H845.400Q842.700 835.300 842.700 833Z" fill="#d81c1c"/>
<rect x="842.700" y="826.300" width="50" height="1.600" fill="#f04a42"/>
<rect x="851" y="830" width="35" height="3.500" fill="#b90f0f" opacity=".7"/>
<path d="M847 792Q847 785 856 784.500H862V824H847Z" fill="#f6423a" opacity=".45"/>
</g>
<!-- WD240 LoRa node -->
<g id="wd240" filter="url(#soft)">
<rect x="989.400" y="784.600" width="6.700" height="5.400" fill="#55c05b"/>
<path d="M984.500 790.500L982.800 777" stroke="#151515" stroke-width="6" stroke-linecap="round" fill="none"/>
<path d="M983 774.200L1054.500 757.800" stroke="#121212" stroke-width="5.200" stroke-linecap="round" fill="none"/>
<path d="M971.300 792.700L990.900 790.500V880.400L971.300 857.400Z" fill="#4c473a"/>
<path d="M974 812L988 812.500V846L974 836Z" fill="#5a5548" opacity=".8"/>
<path d="M990.900 789.800L1011.400 791.300V876.700L990.900 881.200Z" fill="#d9d2b3"/>
<path d="M994.200 795.300Q994.200 793.800 995.700 793.900L1008.700 794.800Q1010.200 794.900 1010.200 796.400V873.500Q1010.200 875 1008.700 875.300L995.700 877.600Q994.200 877.900 994.200 876.400Z" fill="#4c555b"/>
<g fill="#cfd6da"><rect x="996.500" y="799.500" width="7" height="1.200"/><rect x="996.500" y="802" width="7" height="1.200"/><rect x="996.500" y="806" width="7" height="1.200"/><rect x="996.500" y="808.500" width="5" height="1.200"/></g>
<rect x="997.600" y="814.300" width="4.900" height="61" fill="#4cbf55"/>
<g fill="#1f6f2c"><rect x="998.400" y="816" width="2" height="1.800"/><rect x="998.400" y="820" width="2" height="1.800"/><rect x="998.400" y="824" width="2" height="1.800"/><rect x="998.400" y="828" width="2" height="1.800"/><rect x="998.400" y="832" width="2" height="1.800"/><rect x="998.400" y="836" width="2" height="1.800"/><rect x="998.400" y="840" width="2" height="1.800"/><rect x="998.400" y="844" width="2" height="1.800"/><rect x="998.400" y="848" width="2" height="1.800"/><rect x="998.400" y="852" width="2" height="1.800"/><rect x="998.400" y="856" width="2" height="1.800"/><rect x="998.400" y="860" width="2" height="1.800"/><rect x="998.400" y="864" width="2" height="1.800"/><rect x="998.400" y="868" width="2" height="1.800"/><rect x="998.400" y="872" width="2" height="1.800"/></g>
<rect x="1006" y="832" width="1.600" height="16" fill="#aab3b8"/>
</g>
<!-- webcam -->
<g id="cam" filter="url(#soft)">
<path d="M1080.800 852Q1085 847 1100 849.500Q1115 853 1124 850.500Q1132 847.500 1137.300 850Q1134 856 1123 862.500Q1112 865.500 1096 862Q1083 858.500 1080.800 852Z" fill="url(#gCamBase)" stroke="#b9b9bd" stroke-width=".7"/>
<path d="M1083 856.500Q1100 863 1122 861" stroke="#b1b1b5" stroke-width="1" fill="none"/>
<path d="M1081.600 847Q1083 842.500 1092 843.500L1107 845L1120 843.500Q1122.500 848 1119 852.500L1112 855.500Q1106 853 1100 848.500Q1090 847.500 1084 850.500Z" fill="#19191b"/>
<rect x="1104.600" y="838.500" width="11.900" height="9" rx="2" fill="#1d1d1f"/>
<circle cx="1110.500" cy="818" r="22.300" fill="url(#gCam)"/>
<path d="M1093.500 803.500Q1100 795.500 1110.500 795.700Q1118 796 1123 799.500Q1112 798.500 1104 802.500Q1099 805 1096 809Z" fill="#1c1c1e"/>
<ellipse cx="1095.800" cy="818.500" rx="8.400" ry="10.200" fill="#18181a"/>
<ellipse cx="1095.800" cy="818.500" rx="6.300" ry="8" fill="#b9bcc4"/>
<ellipse cx="1095.800" cy="818.500" rx="5" ry="6.500" fill="#1a1f2e"/>
<ellipse cx="1095.600" cy="818.500" rx="3.300" ry="4.200" fill="#2464d8"/>
<ellipse cx="1094.800" cy="817" rx="1.300" ry="1.700" fill="#6fa3f2"/>
<ellipse cx="1125.500" cy="819.500" rx="1.400" ry="2.200" fill="#8d8d92"/>
<path d="M1099 835.500l8 2.500" stroke="#333" stroke-width="1" fill="none"/>
</g>

<defs>
<linearGradient id="lgWt" x1="0.8" y1="0.1" x2="0.3" y2="1">
<stop offset="0" stop-color="#12b0e4"/><stop offset="0.5" stop-color="#0fa0dc"/><stop offset="1" stop-color="#0a78c4"/>
</linearGradient>
</defs>
<!-- WTBL brand logo -->
<circle cx="1441.100" cy="46.400" r="31.300" fill="url(#lgWt)"/>
<path d="M1413.800 31.400L1424.500 27.900C1421 36 1418.400 45 1418.200 52.400C1418.200 56.500 1420.200 58.400 1423 57.900C1423.600 49.500 1426 41 1429.200 34.200L1441 29.900C1438 38 1435.300 46 1435.100 52.400C1435.100 56.500 1437.200 58.400 1440.300 57.900C1440.800 49.500 1443 41 1446.200 33.800L1458.400 28.300C1455 36 1452 44 1451.700 50.500C1451.700 56 1454 58.500 1457.500 57.800C1461.500 57 1466 53 1471 48.800C1466.500 56 1459.500 62.500 1452.500 65.500C1447.500 67.500 1443 66 1441 61.800C1437.500 65 1433.500 67 1430 66.600C1427 66 1425 64 1424.100 61.800C1421.500 63.800 1419 65.300 1416.600 66.200C1412.500 60.500 1410.200 54 1409.900 47C1409.900 41 1411.300 35.800 1413.800 31.400Z" fill="#ffffff"/>
<path d="M1471.200 48.600l-5.600 1.200 3.200 1 .6 3.200z" fill="#ffffff"/>
<path d="M1440.500 15.800l1.300 3 3.200 1.200 -3.200 1.200 -1.300 3 -1.300 -3 -3.200 -1.200 3.200 -1.200z M1428.400 23.700l.9 1.700 1.900.8 -1.900.8 -.9 1.700 -.9 -1.700 -1.900 -.8 1.900 -.8z M1453.700 22.600l.9 1.700 1.900.8 -1.900.8 -.9 1.700 -.9 -1.700 -1.900 -.8 1.900 -.8z" fill="#ffffff"/>
<text x="1482.500" y="62.500" font-family="'Liberation Sans','Noto Sans CJK SC',sans-serif" font-weight="900" font-size="45" fill="#ffffff" stroke="#0b79b5" stroke-width="5.500" stroke-linejoin="round" paint-order="stroke" textLength="190" lengthAdjust="spacing">物通博联</text>
<!-- slogan -->
<path id="sloganPath" d="M1687.500 61.500C1740 46.500 1800 37.800 1900 35.800" fill="none"/>
<text font-family="'Liberation Serif','Noto Serif CJK SC',serif" font-style="italic" font-weight="600" font-size="17.500" fill="#8a8a8a" letter-spacing="3"><textPath href="#sloganPath">开启工业物联网的未来</textPath></text>
<path d="M1901.800 35.200C1870 35.800 1850 36.800 1826 39C1806 41 1790 42.800 1774 45C1755 48 1738 51.800 1722 56C1708 60 1698 64.500 1694 68.500C1691.500 71.500 1693 73.500 1696 73.200C1698.500 72.800 1700 71.500 1700.500 70.300" fill="none" stroke="#a3a3a3" stroke-width="1.200" stroke-linecap="round"/>

</svg>
<div class="t sans" style="left:151.01px;top:46.63px;transform:scale(0.2379,0.2292);color:#0b6cb3;font-weight:700;">能源物联网专委会</div>
<div class="t sans" style="left:152.37px;top:75.78px;transform:scale(0.1542,0.1882);color:#1872b5;clip-path:inset(0 0 35.6px 0);">ENERGY IoT COMMITTEE</div>
<div class="t serif" style="left:1415.00px;top:219.88px;transform:scale(0.4744,0.4804);color:#fff;">云平台软件</div>
<div class="ln"><span class="t sans" style="left:1414.73px;top:373.37px;transform:scale(0.3583,0.4522);color:#fff;">PASS</span><span class="t serif" style="left:1509.33px;top:372.89px;transform:scale(0.4671,0.4859);color:#fff;">支撑层</span></div>
<div class="t serif" style="left:1413.77px;top:550.35px;transform:scale(0.4767,0.4753);color:#fff;">边缘网关层</div>
<div class="t serif" style="left:1463.12px;top:775.88px;transform:scale(0.4702,0.4804);color:#fff;">设备层</div>
<div class="t sans" style="left:1555.90px;top:1029.03px;transform:scale(0.4271,0.3892);color:#e2e0e1;font-weight:700;">www.wtblnet.com</div>
<div class="t serif" style="left:275.09px;top:132.06px;transform:scale(0.2275,0.2211);color:#222;font-weight:700;">设备远程维护快线</div>
<div class="t serif" style="left:495.09px;top:132.06px;transform:scale(0.2271,0.2211);color:#222;font-weight:700;">设备远程运维平台</div>
<div class="t serif" style="left:742.52px;top:133.16px;transform:scale(0.2270,0.2198);color:#222;font-weight:700;">工业数据应用平台</div>
<div class="ln"><span class="t serif" style="left:988.23px;top:135.84px;transform:scale(0.2246,0.2179);color:#222;font-weight:700;">手机</span><span class="t serif" style="left:1035.02px;top:136.25px;transform:scale(0.1758,0.2091);color:#222;font-weight:700;">APP</span></div>
<div class="t serif" style="left:649.53px;top:341.29px;transform:scale(0.2225,0.1892);color:#fff;font-weight:700;letter-spacing:0.05em;">Interface</div>
<div class="ln"><span class="t serif" style="left:591.46px;top:401.06px;transform:scale(0.2794,0.3969);color:#2b6f82;letter-spacing:0.04em;-webkit-text-stroke:1.26px #2b6f82;">MQTT</span> <span class="t serif" style="left:697.12px;top:401.06px;transform:scale(0.3253,0.3969);color:#2b6f82;letter-spacing:0.04em;-webkit-text-stroke:1.26px #2b6f82;">SERVER</span></div>
<div class="ln"><span class="t sans" style="left:1205.40px;top:448.35px;transform:scale(0.2511,0.2533);color:#fff;font-weight:300;">物</span><span class="t sans" style="left:1205.16px;top:477.42px;transform:scale(0.2484,0.2570);color:#fff;font-weight:300;">通</span><span class="t sans" style="left:1205.16px;top:507.75px;transform:scale(0.2484,0.2543);color:#fff;font-weight:300;">博</span><span class="t sans" style="left:1205.41px;top:536.42px;transform:scale(0.2484,0.2600);color:#fff;font-weight:300;">联</span><span class="t sans" style="left:1204.84px;top:567.35px;transform:scale(0.2598,0.2451);color:#fff;font-weight:300;">方</span><span class="t sans" style="left:1205.16px;top:597.46px;transform:scale(0.2484,0.2424);color:#fff;font-weight:300;">案</span></div>
<div class="ln"><span class="t mono" style="left:297.93px;top:499.13px;transform:scale(0.1792,0.2230);color:#2a2a2a;">5G/4G/3G/WIFI/Cable</span><span class="t sans" style="left:500.78px;top:498.49px;transform:scale(0.2179,0.2109);color:#2a2a2a;font-weight:300;">以太网</span></div>
<div class="ln"><span class="t mono" style="left:820.62px;top:499.13px;transform:scale(0.1794,0.2230);color:#2a2a2a;">5G/4G/3G/WIFI/Cable</span><span class="t sans" style="left:1024.10px;top:497.98px;transform:scale(0.2168,0.2163);color:#2a2a2a;font-weight:300;">以太网</span></div>
<div class="t sans" style="left:626.83px;top:510.48px;transform:scale(0.2136,0.2228);color:#2a2a2a;font-weight:300;">本地上位机</div>
<div class="t mono" style="left:551.60px;top:602.06px;transform:scale(0.1520,0.1603);color:#2a2a2a;">WG593</div>
<div class="t sans" style="left:541.84px;top:620.60px;transform:scale(0.1718,0.1710);color:#2a2a2a;">智能网关</div>
<div class="t mono" style="left:781.20px;top:602.06px;transform:scale(0.1531,0.1603);color:#2a2a2a;">WG593</div>
<div class="t sans" style="left:768.53px;top:620.60px;transform:scale(0.1733,0.1710);color:#2a2a2a;">智能网关</div>
<div class="t mono" style="left:524.50px;top:662.04px;transform:scale(0.1547,0.1851);color:#2a2a2a;">AI/DI/DO/RO</div>
<div class="t mono" style="left:745.63px;top:663.26px;transform:scale(0.1584,0.1468);color:#2a2a2a;">Edge Compute</div>
<div class="ln"><span class="t mono" style="left:475.93px;top:726.18px;transform:scale(0.1540,0.1743);color:#2a2a2a;">485/IO/wifi/</span><span class="t sans" style="left:587.05px;top:724.24px;transform:scale(0.1838,0.1651);color:#2a2a2a;">网口</span><span class="t mono" style="left:623.38px;top:726.18px;transform:scale(0.1374,0.1743);color:#2a2a2a;">/LORA</span></div>
<div class="ln"><span class="t mono" style="left:709.63px;top:727.37px;transform:scale(0.1540,0.1757);color:#2a2a2a;">485/IO/wifi/</span><span class="t sans" style="left:820.76px;top:724.68px;transform:scale(0.1827,0.1744);color:#2a2a2a;">网口</span><span class="t mono" style="left:857.09px;top:727.37px;transform:scale(0.1350,0.1757);color:#2a2a2a;">/LORA</span></div>
<div class="t mono" style="left:214.15px;top:758.44px;transform:scale(0.1509,0.1618);color:#2a2a2a;">485</div>
<div class="t sans" style="left:302.45px;top:761.53px;transform:scale(0.1751,0.1656);color:#2a2a2a;">以太网</div>
<div class="t mono" style="left:457.40px;top:763.13px;transform:scale(0.1518,0.1773);color:#2a2a2a;">AI</div>
<div class="t mono" style="left:577.38px;top:763.35px;transform:scale(0.1654,0.1721);color:#2a2a2a;">RO</div>
<div class="t mono" style="left:707.13px;top:762.19px;transform:scale(0.1538,0.1676);color:#2a2a2a;">485</div>
<div class="t mono" style="left:824.88px;top:764.69px;transform:scale(0.1654,0.1676);color:#2a2a2a;">DO</div>
<div class="t mono" style="left:935.97px;top:765.62px;transform:scale(0.1610,0.1750);color:#2a2a2a;">LORA</div>
<div class="t sans" style="left:1047.92px;top:761.53px;transform:scale(0.1776,0.1656);color:#2a2a2a;">以太网</div>
<div class="t serif" style="left:217.16px;top:903.59px;transform:scale(0.1843,0.1639);color:#1e1e1e;font-weight:900;letter-spacing:0.09em;">电表/仪表</div>
<div class="ln"><span class="t serif" style="left:321.49px;top:902.07px;transform:scale(0.1530,0.1848);color:#1e1e1e;font-weight:900;letter-spacing:0.04em;">PLC</span><span class="t serif" style="left:354.63px;top:903.60px;transform:scale(0.1686,0.1656);color:#1e1e1e;font-weight:900;letter-spacing:0.09em;">控制器</span></div>
<div class="t serif" style="left:449.79px;top:903.60px;transform:scale(0.1714,0.1656);color:#1e1e1e;font-weight:900;letter-spacing:0.09em;">压力传感器</div>
<div class="t serif" style="left:580.78px;top:903.60px;transform:scale(0.1724,0.1656);color:#1e1e1e;font-weight:900;letter-spacing:0.09em;">污水泵</div>
<div class="t serif" style="left:699.69px;top:903.60px;transform:scale(0.1714,0.1656);color:#1e1e1e;font-weight:900;letter-spacing:0.09em;">气体传感器</div>
<div class="t serif" style="left:840.66px;top:903.60px;transform:scale(0.1688,0.1656);color:#1e1e1e;font-weight:900;letter-spacing:0.09em;">指示灯</div>
<div class="t serif" style="left:979.15px;top:902.54px;transform:scale(0.1499,0.1701);color:#1e1e1e;font-weight:900;letter-spacing:0.06em;">WD240</div>
<div class="t serif" style="left:1084.16px;top:903.60px;transform:scale(0.1696,0.1656);color:#1e1e1e;font-weight:900;letter-spacing:0.09em;">摄像头</div>
<div class="ln"><span class="t sans" style="left:279.26px;top:585.48px;transform:scale(0.2100,0.2100);color:#222;font-weight:700;">·</span><span class="t sans" style="left:290.41px;top:588.20px;transform:scale(0.1725,0.1681);color:#111;font-weight:500;">数据采集</span></div>
<div class="ln"><span class="t sans" style="left:279.26px;top:605.58px;transform:scale(0.2100,0.2100);color:#222;font-weight:700;">·</span><span class="t sans" style="left:290.84px;top:608.03px;transform:scale(0.1711,0.1710);color:#2a2a2a;">协议解析</span></div>
<div class="ln"><span class="t sans" style="left:279.26px;top:625.58px;transform:scale(0.2100,0.2100);color:#222;font-weight:700;">·</span><span class="t sans" style="left:290.89px;top:628.70px;transform:scale(0.1714,0.1688);color:#2a2a2a;">边缘计算</span></div>
<div class="ln"><span class="t sans" style="left:279.26px;top:645.68px;transform:scale(0.2100,0.2100);color:#222;font-weight:700;">·</span><span class="t mono" style="left:289.49px;top:649.10px;transform:scale(0.1522,0.1803);color:#2a2a2a;">MQTT</span><span class="t sans" style="left:328.81px;top:648.52px;transform:scale(0.1637,0.1750);color:#2a2a2a;">接入</span></div>
<div class="ln"><span class="t sans" style="left:279.26px;top:665.78px;transform:scale(0.2100,0.2100);color:#222;font-weight:700;">·</span><span class="t sans" style="left:290.71px;top:669.03px;transform:scale(0.1722,0.1688);color:#2a2a2a;">联网接入</span></div>
<div class="ln"><span class="t sans" style="left:279.26px;top:686.18px;transform:scale(0.2100,0.2100);color:#222;font-weight:700;">·</span><span class="t mono" style="left:290.22px;top:690.45px;transform:scale(0.1476,0.1721);color:#2a2a2a;">IO</span><span class="t sans" style="left:309.81px;top:689.20px;transform:scale(0.1720,0.1699);color:#2a2a2a;">采集控制</span></div>
<div class="ln"><span class="t sans" style="left:988.76px;top:582.68px;transform:scale(0.2100,0.2100);color:#222;font-weight:700;">·</span><span class="t sans" style="left:999.91px;top:585.40px;transform:scale(0.1725,0.1681);color:#111;font-weight:500;">数据采集</span></div>
<div class="ln"><span class="t sans" style="left:988.76px;top:602.78px;transform:scale(0.2100,0.2100);color:#222;font-weight:700;">·</span><span class="t sans" style="left:1000.34px;top:605.23px;transform:scale(0.1711,0.1710);color:#2a2a2a;">协议解析</span></div>
<div class="ln"><span class="t sans" style="left:988.76px;top:622.78px;transform:scale(0.2100,0.2100);color:#222;font-weight:700;">·</span><span class="t sans" style="left:1000.39px;top:625.90px;transform:scale(0.1714,0.1688);color:#2a2a2a;">边缘计算</span></div>
<div class="ln"><span class="t sans" style="left:988.76px;top:642.88px;transform:scale(0.2100,0.2100);color:#222;font-weight:700;">·</span><span class="t mono" style="left:998.99px;top:646.30px;transform:scale(0.1522,0.1803);color:#2a2a2a;">MQTT</span><span class="t sans" style="left:1038.31px;top:645.73px;transform:scale(0.1637,0.1750);color:#2a2a2a;">接入</span></div>
<div class="ln"><span class="t sans" style="left:988.76px;top:662.99px;transform:scale(0.2100,0.2100);color:#222;font-weight:700;">·</span><span class="t sans" style="left:1000.21px;top:666.23px;transform:scale(0.1722,0.1688);color:#2a2a2a;">联网接入</span></div>
<div class="ln"><span class="t sans" style="left:988.76px;top:683.38px;transform:scale(0.2100,0.2100);color:#222;font-weight:700;">·</span><span class="t mono" style="left:999.72px;top:687.65px;transform:scale(0.1476,0.1721);color:#2a2a2a;">IO</span><span class="t sans" style="left:1019.31px;top:686.40px;transform:scale(0.1720,0.1699);color:#2a2a2a;">采集控制</span></div>
</div>
</body>
</html>
